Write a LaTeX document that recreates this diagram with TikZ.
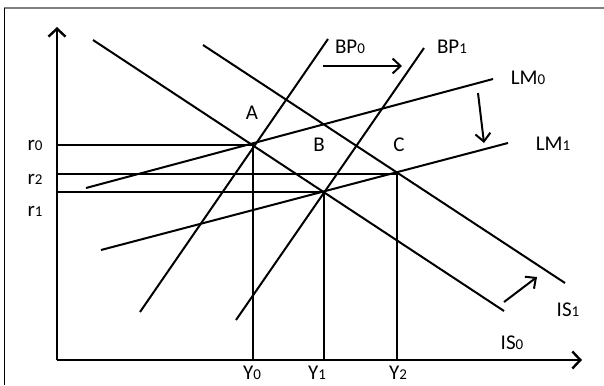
\documentclass[tikz,border=0pt]{standalone}
\usepackage{fontspec}
\setmainfont{Carlito}
\usepackage{tikz}
\usetikzlibrary{arrows.meta}
\newcommand{\lowdigit}[1]{{\fontsize{15}{15}\selectfont #1}}

\begin{document}
\begin{tikzpicture}[x=1pt,y=-1pt,
      curve/.style={line width=2pt},
      axis/.style={line width=2.4pt,
                   -{Straight Barb[length=8pt,width=17pt]}},
      movearrow/.style={line width=2pt,
                    -{Straight Barb[length=8pt,width=15pt]}},
      lbl/.style={font=\fontsize{21}{24}\selectfont,inner sep=0pt}]
    \useasboundingbox (0,0) rectangle (604,385);
    % frame
    \draw[gray,line width=1.2pt] (4,8) -- (604,8);
    \draw[line width=1pt] (4,8) -- (4,385);
    % axes
    \coordinate (O) at (57,360);
    \coordinate (rtop) at (57,27);
    \coordinate (yend) at (582,360);
    \draw[axis] (O) -- (rtop);
    \draw[axis] (O) -- (yend);
    % equilibria
    \coordinate (A) at (253,145);
    \coordinate (B) at (324,192);
    \coordinate (C) at (397,174);
    % curves
    \coordinate (is0a) at (93,40);   \coordinate (is0b) at (504,311);
    \coordinate (is1a) at (203,45);  \coordinate (is1b) at (565,283);
    \coordinate (bp0a) at (328,39);  \coordinate (bp0b) at (140,312);
    \coordinate (bp1a) at (424,48);  \coordinate (bp1b) at (236,320);
    \coordinate (lm0a) at (86,188);  \coordinate (lm0b) at (493,79);
    \coordinate (lm1a) at (101,250); \coordinate (lm1b) at (508,143);
    \draw[curve] (is0a) -- (is0b);
    \draw[curve] (is1a) -- (is1b);
    \draw[curve] (bp0a) -- (bp0b);
    \draw[curve] (bp1a) -- (bp1b);
    \draw[curve] (lm0a) -- (lm0b);
    \draw[curve] (lm1a) -- (lm1b);
    % guide lines
    \foreach \p in {A,B,C}
      \draw[curve] (O |- \p) -- (\p) -- (\p |- O);
    % shifts
    \coordinate (bpsa) at (323,66);  \coordinate (bpsb) at (402,66);
    \coordinate (lmsa) at (478,93);  \coordinate (lmsb) at (484,143);
    \coordinate (issa) at (504,302); \coordinate (issb) at (537,277);
    \draw[movearrow] (bpsa) -- (bpsb);
    \draw[movearrow] (lmsa) -- (lmsb);
    \draw[movearrow] (issa) -- (issb);
    % labels
    \node[lbl] (lA) at (252,113) {A};
    \node[lbl] (lB) at (319,145) {B};
    \node[lbl] (lC) at (399,145) {C};
    \node[lbl] (r0) at (35,145) {r\lowdigit{0}};
    \node[lbl] (r2) at (35,179) {r\lowdigit{2}};
    \node[lbl] (r1) at (35,211) {r\lowdigit{1}};
    \node[lbl] (y0) at (252,373) {Y\lowdigit{0}};
    \node[lbl] (y1) at (317,373) {Y\lowdigit{1}};
    \node[lbl] (y2) at (398,373) {Y\lowdigit{2}};
    \node[lbl] (bp0) at (350,47) {BP\lowdigit{0}};
    \node[lbl] (bp1) at (452,47) {BP\lowdigit{1}};
    \node[lbl] (lm0) at (528,78) {LM\lowdigit{0}};
    \node[lbl] (lm1) at (553,144) {LM\lowdigit{1}};
    \node[lbl] (is1) at (568,310) {IS\lowdigit{1}};
    \node[lbl] (is0) at (512,343) {IS\lowdigit{0}};
  \end{tikzpicture}
\end{document}
